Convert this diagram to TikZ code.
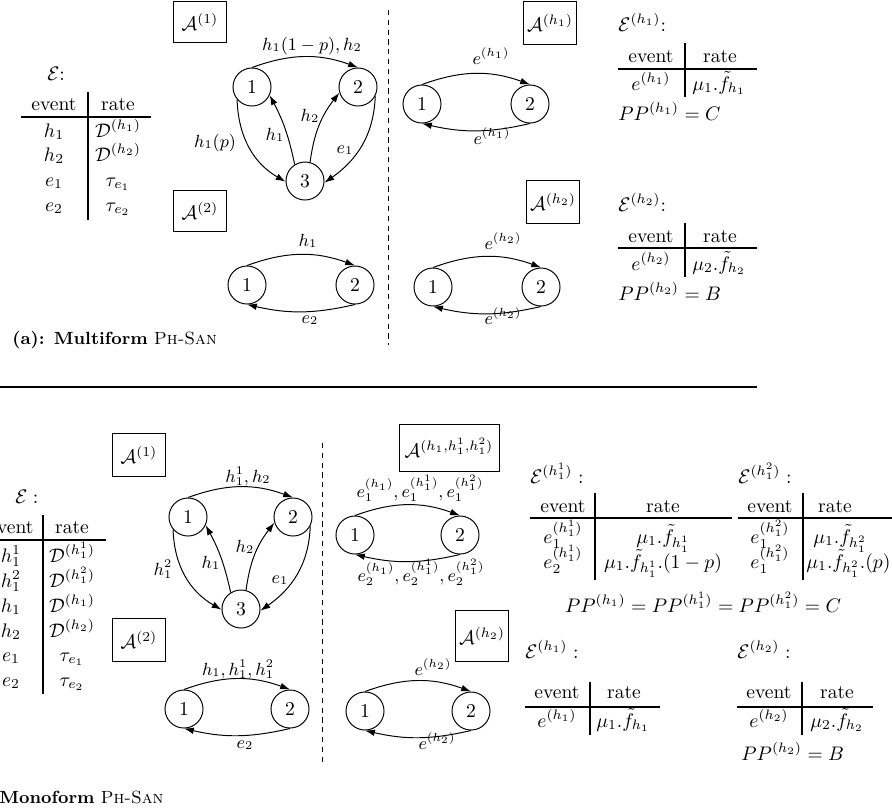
\documentclass[tikz,border=0pt]{standalone}
\usetikzlibrary{arrows.meta}
\begin{document}
\begin{tikzpicture}[x=0.5101pt,y=-0.5101pt,
  st/.style={circle,draw,line width=0.5pt,minimum size=19.4pt,inner sep=0pt},
  abox/.style={draw,line width=0.5pt,inner sep=2pt},
  arr/.style={line width=0.5pt,-{Latex[length=5pt,width=3.4pt]}},
  lbl/.style={font=\small,inner sep=0pt,anchor=base},
  txt/.style={inner sep=0pt,anchor=base},
  txtw/.style={inner sep=0pt,anchor=base west},
  tlinea/.style={line width=0.9pt},
  tlineb/.style={line width=1.2pt},
  sepline/.style={line width=0.5pt,dash pattern=on 2.6pt off 2.4pt},
]
\clip (0,0) rectangle (892,811);

% ================= (a) Multiform =================
\node[abox,minimum width=27.5pt,minimum height=21.4pt] (A1a) at (200,22) {$\mathcal{A}^{(1)}$};
\node[txtw] (Ea) at (47,80) {$\mathcal{E}$:};
\node[txt] (tah1) at (54,110) {event};
\node[txt] (tah2) at (118,110) {rate};
\node[txt] (tar1a) at (54,137) {$h_1$};
\node[txt] (tar1b) at (118,137) {$\mathcal{D}^{(h_1)}$};
\node[txt] (tar2a) at (54,161) {$h_2$};
\node[txt] (tar2b) at (118,161) {$\mathcal{D}^{(h_2)}$};
\node[txt] (tar3a) at (54,186) {$e_1$};
\node[txt] (tar3b) at (118,186) {$\tau_{e_1}$};
\node[txt] (tar4a) at (54,211) {$e_2$};
\node[txt] (tar4b) at (118,211) {$\tau_{e_2}$};
\draw[tlinea] (21,117) -- (151,117);
\draw[tlinea] (88,92) -- (88,220);

% graph A^(1)
\node[st] (a1) at (252,87) {1};
\node[st] (a2) at (358,87) {2};
\node[st] (a3) at (305,181) {3};
\draw[arr] (a1.north) to[bend left=20] (a2.north);
\draw[arr] (a1.220) to[out=-88,in=150] (a3.182);
\draw[arr] (a3.122) to[bend right=8] (a1.-25);
\draw[arr] (a3.75) to[bend left=15] (a2.197);
\draw[arr] (a2.-28) to[out=-92,in=35] (a3.-5);
\node[lbl] (la12) at (312,50) {$h_1(1-p), h_2$};
\node[lbl] (la13) at (215,147) {$h_1(p)$};
\node[lbl] (la31) at (275,140) {$h_1$};
\node[lbl] (la32) at (310,121) {$h_2$};
\node[lbl] (la23) at (345,153) {$e_1$};

% graph A^(2)
\node[abox,minimum width=27.5pt,minimum height=21.4pt] (A2a) at (200,211) {$\mathcal{A}^{(2)}$};
\node[st] (b1) at (247,285) {1};
\node[st] (b2) at (355,285) {2};
\draw[arr] (b1.north) to[bend left=20] (b2.north);
\draw[arr] (b2.south) to[bend left=13] (b1.south);
\node[lbl] (lb12) at (308,246) {$h_1$};
\node[lbl] (lb21) at (310,323) {$e_2$};

\node[txtw,font=\small] (capa) at (12,344) {\textbf{(a): Multiform} \textsc{Ph-San}};
\draw[sepline] (388,10) -- (388,345);

% A^(h1)
\node[abox,minimum width=27.5pt,minimum height=22pt] (Ah1a) at (550,23) {$\mathcal{A}^{(h_1)}$};
\node[st] (c1) at (422,104) {1};
\node[st] (c2) at (530,104) {2};
\draw[arr] (c1.north) to[bend left=20] (c2.north);
\draw[arr] (c2.south) to[bend left=13] (c1.south);
\node[lbl] (lc12) at (491,64) {$e^{(h_1)}$};
\node[lbl] (lc21) at (492,144) {$e^{(h_1)}$};
\node[txtw] (Eh1a) at (618,31) {$\mathcal{E}^{(h_1)}$:};
\node[txt] (tch1) at (651,62) {event};
\node[txt] (tch2) at (720,62) {rate};
\node[txt] (tcr1a) at (651,90) {$e^{(h_1)}$};
\node[txt] (tcr1b) at (719,90) {$\mu_1.\tilde{f}_{h_1}$};
\draw[tlinea] (618,69) -- (757,69);
\draw[tlinea] (685,43) -- (685,97);
\node[txtw] (PPh1a) at (618,120) {$PP^{(h_1)} = C$};

% A^(h2)
\node[abox,minimum width=27.5pt,minimum height=22pt] (Ah2a) at (553,202) {$\mathcal{A}^{(h_2)}$};
\node[st] (d1) at (433,287) {1};
\node[st] (d2) at (541,287) {2};
\draw[arr] (d1.north) to[bend left=20] (d2.north);
\draw[arr] (d2.south) to[bend left=13] (d1.south);
\node[lbl] (ld12) at (503,249) {$e^{(h_2)}$};
\node[lbl] (ld21) at (503,324) {$e^{(h_2)}$};
\node[txtw] (Eh2a) at (618,211) {$\mathcal{E}^{(h_2)}$:};
\node[txt] (tdh1) at (651,242) {event};
\node[txt] (tdh2) at (720,242) {rate};
\node[txt] (tdr1a) at (651,270) {$e^{(h_2)}$};
\node[txt] (tdr1b) at (719,270) {$\mu_2.\tilde{f}_{h_2}$};
\draw[tlinea] (618,248) -- (757,248);
\draw[tlinea] (685,223) -- (685,277);
\node[txtw] (PPh2a) at (618,300) {$PP^{(h_2)} = B$};

\draw[line width=0.8pt] (0,387) -- (757,387);

% ================= (b) Monoform =================
\node[abox,minimum width=27pt,minimum height=22pt] (A1b) at (139,455) {$\mathcal{A}^{(1)}$};
\node[txtw] (Eb) at (15,503) {$\mathcal{E}:$};
\node[txt] (tbh1) at (11,533) {event};
\node[txt] (tbh2) at (72,533) {rate};
\node[txt] (tbr1a) at (11,562) {$h_1^1$};
\node[txt] (tbr1b) at (72,562) {$\mathcal{D}^{(h_1^1)}$};
\node[txt] (tbr2a) at (11,587) {$h_1^2$};
\node[txt] (tbr2b) at (72,587) {$\mathcal{D}^{(h_1^2)}$};
\node[txt] (tbr3a) at (11,612) {$h_1$};
\node[txt] (tbr3b) at (72,612) {$\mathcal{D}^{(h_1)}$};
\node[txt] (tbr4a) at (11,637) {$h_2$};
\node[txt] (tbr4b) at (72,637) {$\mathcal{D}^{(h_2)}$};
\node[txt] (tbr5a) at (11,661) {$e_1$};
\node[txt] (tbr5b) at (72,661) {$\tau_{e_1}$};
\node[txt] (tbr6a) at (11,686) {$e_2$};
\node[txt] (tbr6b) at (72,686) {$\tau_{e_2}$};
\draw[tlineb] (-5,540) -- (106,540);
\draw[tlineb] (43,515) -- (43,694);

% graph A^(1) monoform
\node[st] (m1) at (188,517) {1};
\node[st] (m2) at (293,517) {2};
\node[st] (m3) at (241,609) {3};
\draw[arr] (m1.north) to[bend left=20] (m2.north);
\draw[arr] (m1.220) to[out=-88,in=150] (m3.182);
\draw[arr] (m3.122) to[bend right=8] (m1.-25);
\draw[arr] (m3.75) to[bend left=15] (m2.197);
\draw[arr] (m2.-28) to[out=-92,in=35] (m3.-5);
\node[lbl] (lm12) at (248,482) {$h_1^1, h_2$};
\node[lbl] (lm13) at (163,575) {$h_1^2$};
\node[lbl] (lm31) at (211,568) {$h_1$};
\node[lbl] (lm32) at (245,552) {$h_2$};
\node[lbl] (lm23) at (280,583) {$e_1$};

% graph A^(2) monoform
\node[abox,minimum width=27pt,minimum height=22pt] (A2b) at (139,640) {$\mathcal{A}^{(2)}$};
\node[st] (n1) at (184,709) {1};
\node[st] (n2) at (290,709) {2};
\draw[arr] (n1.north) to[bend left=20] (n2.north);
\draw[arr] (n2.south) to[bend left=13] (n1.south);
\node[lbl] (ln12) at (238,675) {$h_1, h_1^1, h_1^2$};
\node[lbl] (ln21) at (245,748) {$e_2$};

\node[txtw,font=\small] (capb) at (-1,803) {\textbf{Monoform} \textsc{Ph-San}};
\draw[sepline] (322,443) -- (322,763);

% A^(h1,h1^1,h1^2)
\node[abox,minimum width=51pt,minimum height=24pt] (Ah1b) at (449,448) {$\mathcal{A}^{(h_1,h_1^1,h_1^2)}$};
\node[st] (p1) at (355,535) {1};
\node[st] (p2) at (460,535) {2};
\draw[arr] (p1.north) to[bend left=20] (p2.north);
\draw[arr] (p2.south) to[bend left=13] (p1.south);
\node[lbl] (lp12) at (420,497) {$e_1^{(h_1)}, e_1^{(h_1^1)}, e_1^{(h_1^2)}$};
\node[lbl] (lp21) at (421,581) {$e_2^{(h_1)}, e_2^{(h_1^1)}, e_2^{(h_1^2)}$};

% A^(h2) monoform
\node[abox,minimum width=26.5pt,minimum height=26pt] (Ah2b) at (482,636) {$\mathcal{A}^{(h_2)}$};
\node[st] (q1) at (365,711) {1};
\node[st] (q2) at (471,711) {2};
\draw[arr] (q1.north) to[bend left=20] (q2.north);
\draw[arr] (q2.south) to[bend left=13] (q1.south);
\node[lbl] (lq12) at (433,675) {$e^{(h_2)}$};
\node[lbl] (lq21) at (437,749) {$e^{(h_2)}$};

% tables E^(h1^1), E^(h1^2)
\node[txtw] (Eh11) at (530,483) {$\mathcal{E}^{(h_1^1)}:$};
\node[txtw] (Eh12) at (738,483) {$\mathcal{E}^{(h_1^2)}:$};
\node[txt] (t1h1) at (563,512) {event};
\node[txt] (t1h2) at (663,512) {rate};
\node[txt] (t1r1a) at (563,543) {$e_1^{(h_1^1)}$};
\node[txt] (t1r1b) at (663,543) {$\mu_1.\tilde{f}_{h_1^1}$};
\node[txt] (t1r2a) at (563,568) {$e_2^{(h_1^1)}$};
\node[txt] (t1r2b) at (663,568) {$\mu_1.\tilde{f}_{h_1^1}.(1-p)$};
\draw[tlineb] (530,518) -- (732,518);
\draw[tlineb] (595,493) -- (595,580);
\node[txt] (t2h1) at (770,512) {event};
\node[txt] (t2h2) at (835,512) {rate};
\node[txt] (t2r1a) at (770,543) {$e_1^{(h_1^2)}$};
\node[txt] (t2r1b) at (840,543) {$\mu_1.\tilde{f}_{h_1^2}$};
\node[txt] (t2r2a) at (770,568) {$e_1^{(h_1^2)}$};
\node[txtw] (t2r2b) at (806,568) {$\mu_1.\tilde{f}_{h_1^2}.(p)$};
\draw[tlineb] (738,518) -- (900,518);
\draw[tlineb] (803,493) -- (803,580);
\node[txt] (PPb) at (703,612) {$PP^{(h_1)} = PP^{(h_1^1)} = PP^{(h_1^2)} = C$};

% tables E^(h1), E^(h2) monoform
\node[txtw] (Eh1b) at (525,658) {$\mathcal{E}^{(h_1)}:$};
\node[txtw] (Eh2b) at (737,658) {$\mathcal{E}^{(h_2)}:$};
\node[txt] (t3h1) at (557,698) {event};
\node[txt] (t3h2) at (624,698) {rate};
\node[txt] (t3r1a) at (557,727) {$e^{(h_1)}$};
\node[txt] (t3r1b) at (623,727) {$\mu_1.\tilde{f}_{h_1}$};
\draw[tlineb] (525,707) -- (660,707);
\draw[tlineb] (590,682) -- (590,735);
\node[txt] (t4h1) at (769,698) {event};
\node[txt] (t4h2) at (837,698) {rate};
\node[txt] (t4r1a) at (769,727) {$e^{(h_2)}$};
\node[txt] (t4r1b) at (837,727) {$\mu_2.\tilde{f}_{h_2}$};
\draw[tlineb] (737,707) -- (873,707);
\draw[tlineb] (802,682) -- (802,735);
\node[txtw] (PPh2b) at (741,760) {$PP^{(h_2)} = B$};
\end{tikzpicture}
\end{document}
